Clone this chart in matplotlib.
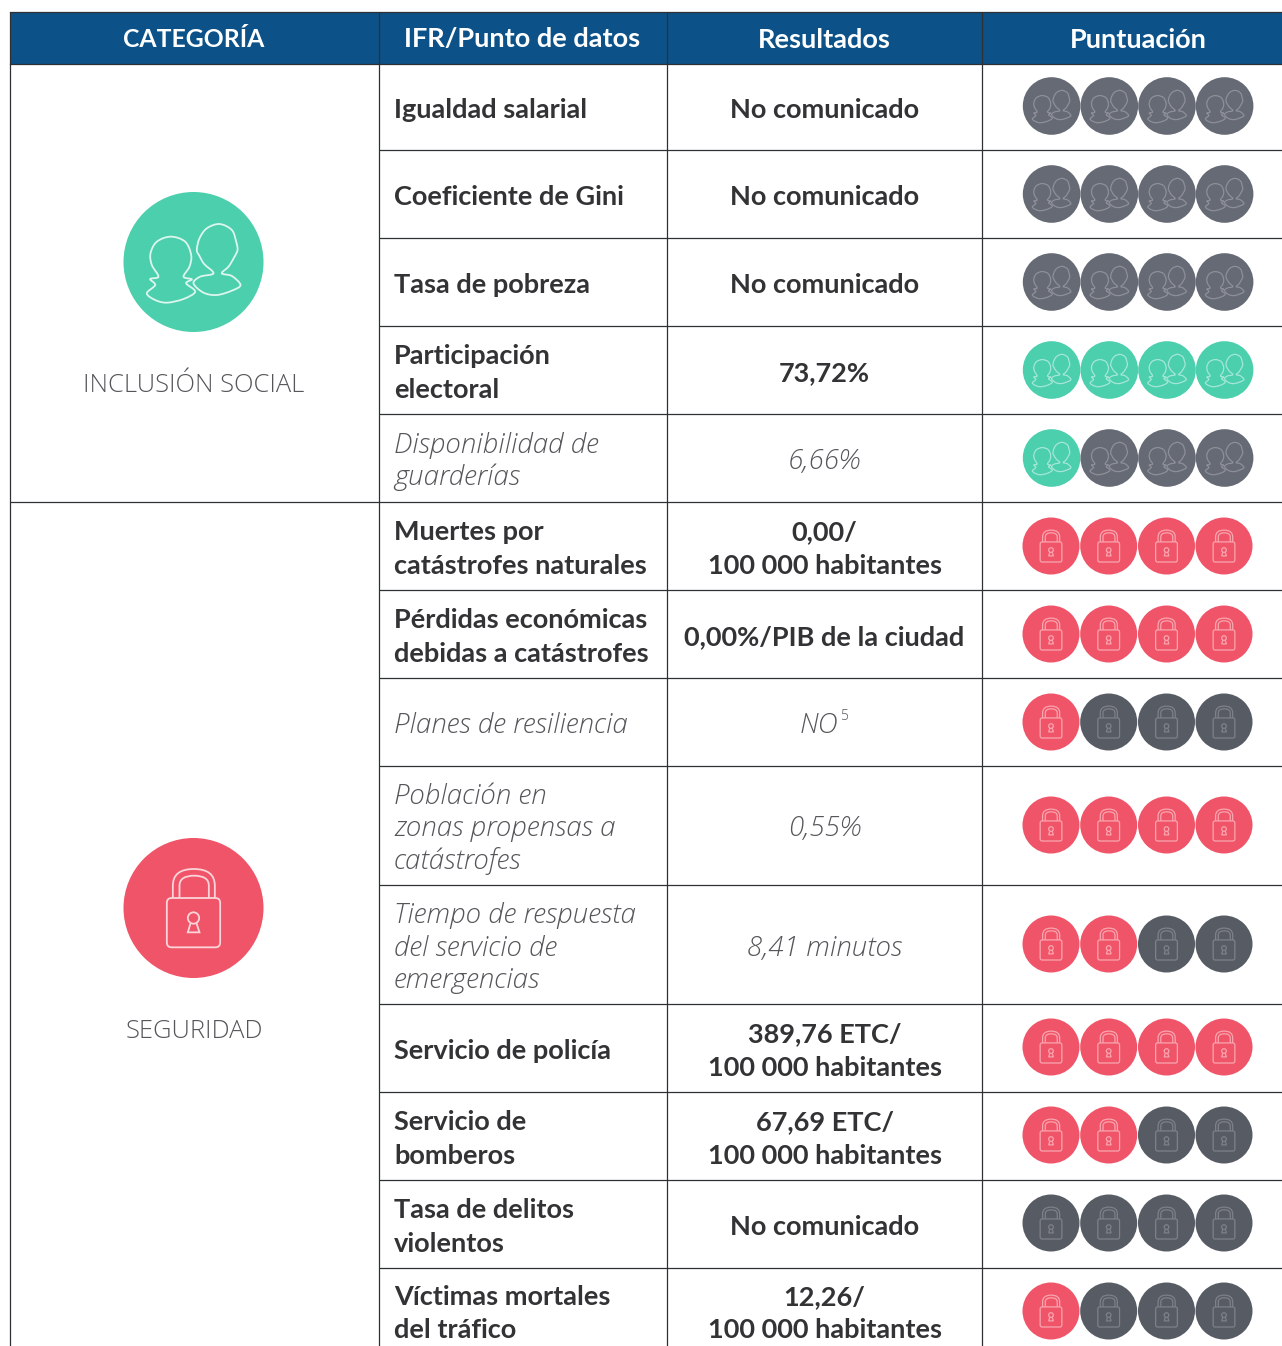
import matplotlib
matplotlib.use("Agg")
import matplotlib.pyplot as plt
from matplotlib.path import Path
from matplotlib.patches import PathPatch, Circle, FancyBboxPatch, Rectangle

W, H = 1282, 1346
headers = ["CATEGORÍA", "IFR/Punto de datos", "Resultados", "Puntuación"]
categories = ["INCLUSIÓN SOCIAL", "SEGURIDAD"]
indicators = ["Igualdad salarial", "Coeficiente de Gini", "Tasa de pobreza", "Participación\nelectoral",
              "Disponibilidad de\nguarderías", "Muertes por\ncatástrofes naturales",
              "Pérdidas económicas\ndebidas a catástrofes", "Planes de resiliencia",
              "Población en\nzonas propensas a\ncatástrofes", "Tiempo de respuesta\ndel servicio de\nemergencias",
              "Servicio de policía", "Servicio de\nbomberos", "Tasa de delitos\nviolentos",
              "Víctimas mortales\ndel tráfico"]
results = ["No comunicado", "No comunicado", "No comunicado", "73,72%", "6,66%",
           "0,00/\n100 000 habitantes", "0,00%/PIB de la ciudad", "NO", "0,55%", "8,41 minutos",
           "389,76 ETC/\n100 000 habitantes", "67,69 ETC/\n100 000 habitantes", "No comunicado",
           "12,26/\n100 000 habitantes"]
scores = [0, 0, 0, 4, 1, 4, 4, 1, 4, 2, 4, 2, 0, 1]
italic = [False, False, False, False, True, False, False, True, True, True, False, False, False, False]
row_category = [0] * 5 + [1] * 9

# layout (pixels)
col_x = [10, 379, 667, 982, W + 2]
head_top, head_bot = 12, 64
row_edges = [64, 150, 238, 326, 414, 502, 590, 678, 766, 885, 1004, 1092, 1180, 1268, H + 5]
dot_y = [106, 194, 282, 370, 458, 546, 634, 722, 825, 944, 1047, 1135, 1223, 1311]
people_x = [1051.6, 1109.3, 1167, 1224.6]
lock_x = [1051, 1108.7, 1166.5, 1224]

BLUE, GREEN, RED = "#0C5288", "#4BCFAD", "#F05468"
GREY_P, GREY_L = "#666A75", "#575B64"
LINE, TXT, TXT_L = "#2E3033", "#333335", "#55565A"

plt.rcParams['font.family'] = ['Lato', 'DejaVu Sans']
fig = plt.figure(figsize=(W / 100, H / 100), dpi=100)
ax = fig.add_axes([0, 0, 1, 1])
ax.set_xlim(0, W); ax.set_ylim(H, 0); ax.axis("off")


def smooth(pts):
    n = len(pts)
    v = [pts[0]]; c = [Path.MOVETO]
    for i in range(n):
        p0, p1, p2, p3 = pts[i - 1], pts[i], pts[(i + 1) % n], pts[(i + 2) % n]
        v += [(p1[0] + (p2[0] - p0[0]) / 6, p1[1] + (p2[1] - p0[1]) / 6),
              (p2[0] - (p3[0] - p1[0]) / 6, p2[1] - (p3[1] - p1[1]) / 6), p2]
        c += [Path.CURVE4] * 3
    return v, c


LEFT = [(175, 320), (155, 285), (151, 250), (170, 215), (212, 200), (255, 215), (273, 255), (268, 290), (250, 320),
        (275, 328), (258, 340), (285, 365), (250, 387), (200, 398), (165, 390), (140, 370), (165, 345), (150, 327)]
RIGHT = [(340, 310), (312, 282), (298, 258), (290, 240), (298, 205), (320, 175), (358, 162), (395, 180), (408, 215),
         (412, 240), (402, 262), (385, 290), (365, 310), (395, 318), (421, 345), (395, 362), (350, 375), (310, 368),
         (280, 340), (300, 320)]


def people_icon(cx, cy, r, col, lw):
    for pts in (LEFT, RIGHT):
        v, c = smooth([((x - 280) / 210 * r + cx, (y - 276) / 210 * r + cy) for x, y in pts])
        ax.add_patch(PathPatch(Path(v, c), fc="none", ec=col, lw=lw, zorder=4))


def lock_icon(cx, cy, r, col, lw):
    f = lambda x, y: ((x - 280) / 210 * r + cx, (y - 262) / 210 * r + cy)
    x0, y0 = f(200, 232); x1, y1 = f(360, 380)
    rad = 0.07 * r
    ax.add_patch(FancyBboxPatch((x0 + rad, y0 + rad), x1 - x0 - 2 * rad, y1 - y0 - 2 * rad,
                                boxstyle=f"round,pad={rad}", fc="none", ec=col, lw=lw, zorder=4))
    for (a, b, top) in ((218, 344, 145), (238, 326, 165)):
        v = [f(a, 232), f(a, 195), f(a, top), f((a + b) / 2, top), f(b, top), f(b, 195), f(b, 232)]
        c = [Path.MOVETO, Path.LINETO, Path.CURVE3, Path.CURVE3, Path.CURVE3, Path.CURVE3, Path.LINETO]
        ax.add_patch(PathPatch(Path(v, c), fc="none", ec=col, lw=lw, zorder=4))
    kv = [f(271, 308), f(263, 335), f(298, 335), f(289, 308)]
    ax.add_patch(PathPatch(Path(kv), fc="none", ec=col, lw=lw, zorder=4))
    kx, ky = f(280, 292)
    ax.add_patch(Circle((kx, ky), 17 / 210 * r, fc="none", ec=col, lw=lw, zorder=4))


# header
ax.add_patch(Rectangle((col_x[0], head_top), W + 5 - col_x[0], head_bot - head_top, fc=BLUE, ec="none", zorder=1))
header_cx = [194, 522.5, 824.5, 1138]
header_fs = [17.8, 19.5, 19.5, 19.5]
for cx, h, fs in zip(header_cx, headers, header_fs):
    ax.text(cx, 39.5, h, color="white", fontsize=fs, fontweight="bold", ha="center", va="center", zorder=5)

# grid
for x in col_x[:-1]:
    ax.plot([x - 0.5, x - 0.5], [head_top, H + 5], color=LINE, lw=0.9, zorder=2, solid_capstyle="butt")
for y in (head_top, head_bot):
    ax.plot([col_x[0], W + 5], [y - 0.5, y - 0.5], color=LINE, lw=0.9, zorder=2)
for i, y in enumerate(row_edges[1:-1], start=1):
    x0 = col_x[0] if row_category[i] != row_category[i - 1] else col_x[1]
    ax.plot([x0, W + 5], [y - 0.5, y - 0.5], color=LINE, lw=0.9, zorder=2, solid_capstyle="butt")

# rows
bold_style = dict(fontweight="bold", color=TXT, fontsize=19.5, linespacing=1.46, family=['Lato', 'DejaVu Sans'])
ital_style = dict(fontstyle="italic", fontweight="light", color=TXT_L, fontsize=20, linespacing=1.25,
                  family=['Open Sans', 'DejaVu Sans'])
for i, (lab, res, sc, it) in enumerate(zip(indicators, results, scores, italic)):
    ym = (row_edges[i] + row_edges[i + 1]) / 2 + (3.5 if it else 3)
    if i == 13:
        ym = 1313.5
    style = ital_style if it else bold_style
    ax.text(394, ym, lab, ha="left", va="center", zorder=5, **style)
    if res == "NO":
        ax.text(838, ym, res, ha="right", va="center", zorder=5, **style)
        ax.text(840, ym - 9, "5", ha="left", va="center", zorder=5, color=TXT_L, fontsize=10,
                fontweight="light", family=['Open Sans', 'DejaVu Sans'])
    else:
        ax.text(824.5, ym, res, ha="center", va="center", zorder=5, **style)
    cat = row_category[i]
    xs = people_x if cat == 0 else lock_x
    r = 28.8 if cat == 0 else 28.5
    for k, x in enumerate(xs):
        on = k < sc
        if cat == 0:
            ax.add_patch(Circle((x, dot_y[i]), r, fc=GREEN if on else GREY_P, ec="none", zorder=3))
            people_icon(x, dot_y[i], r, "#A5E7D6" if on else "#8D9098", 0.9)
        else:
            ax.add_patch(Circle((x, dot_y[i]), r, fc=RED if on else GREY_L, ec="none", zorder=3))
            lock_icon(x, dot_y[i], r, "#F9A6B0" if on else "#7E8189", 0.9)

# category column
icon_y = [262, 908]
label_y = [385, 1031]
for j, cat in enumerate(categories):
    ax.add_patch(Circle((193.5, icon_y[j]), 70, fc=GREEN if j == 0 else RED, ec="none", zorder=3))
    (people_icon if j == 0 else lock_icon)(193.5, icon_y[j], 70, "#DDF6EF" if j == 0 else "#FBD5DA", 1.3)
    ax.text(194, label_y[j], cat, ha="center", va="center", fontsize=18.4, fontweight="light", color=TXT_L, zorder=5,
            family=['Open Sans', 'DejaVu Sans'])

fig.savefig("out.png", dpi=100, facecolor="white")
